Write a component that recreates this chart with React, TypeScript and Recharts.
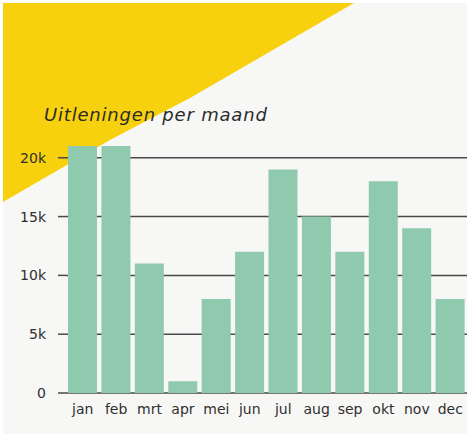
import React from "react";
import { BarChart, Bar, XAxis, YAxis, CartesianGrid } from "recharts";

const months = ["jan", "feb", "mrt", "apr", "mei", "jun", "jul", "aug", "sep", "okt", "nov", "dec"];
const loans = [21000, 21000, 11000, 1000, 8000, 12000, 19000, 15000, 12000, 18000, 14000, 8000];
const yTicks = [0, 5000, 10000, 15000, 20000];
const yTickLabels = ["0", "5k", "10k", "15k", "20k"];
const title = "Uitleningen per maand";

const data = months.map((m, i) => ({ month: m, loans: loans[i] }));

const FONT = "'DejaVu Sans', Lato, sans-serif";

export default function App() {
  return (
    <div
      style={{
        position: "absolute",
        left: 0,
        top: 0,
        width: 469,
        height: 438,
        background: "#ffffff",
        overflow: "hidden",
      }}
    >
      <div
        style={{
          position: "absolute",
          left: 3,
          top: 3,
          width: 464,
          height: 431,
          background: "#f7f7f6",
        }}
      />
      <svg
        width={469}
        height={438}
        style={{ position: "absolute", left: 0, top: 0 }}
      >
        <polygon points="3,3 354,3 190,98 110,140 3,202" fill="#f8d10e" />
      </svg>
      <div
        style={{
          position: "absolute",
          left: 44,
          top: 104,
          fontFamily: FONT,
          fontStyle: "italic",
          fontSize: 18,
          letterSpacing: 0.8,
          color: "#2b2b2b",
          whiteSpace: "nowrap",
        }}
      >
        {title}
      </div>
      <div style={{ position: "absolute", left: 0, top: 0 }}>
        <BarChart
          width={469}
          height={438}
          data={data}
          margin={{ top: 146, right: 2, bottom: 15, left: 0 }}
          barCategoryGap="6%"
        >
          <CartesianGrid
            horizontal={true}
            vertical={false}
            horizontalValues={yTicks}
            stroke="#4a4a4a"
            strokeWidth={1.5}
          />
          <XAxis
            dataKey="month"
            axisLine={false}
            tickLine={false}
            height={30}
            tickMargin={5}
            interval={0}
            tick={{ fill: "#2f2f2f", fontSize: 14, fontFamily: FONT }}
          />
          <YAxis
            width={66}
            domain={[0, 21000]}
            ticks={yTicks}
            axisLine={false}
            tickSize={8}
            tickMargin={12}
            tickLine={{ stroke: "#4a4a4a", strokeWidth: 1.5 }}
            tickFormatter={(v: number) => yTickLabels[yTicks.indexOf(v)]}
            tick={{ fill: "#2f2f2f", fontSize: 14, fontFamily: FONT }}
          />
          <Bar dataKey="loans" fill="#8fcaae" isAnimationActive={false} />
        </BarChart>
      </div>
    </div>
  );
}
